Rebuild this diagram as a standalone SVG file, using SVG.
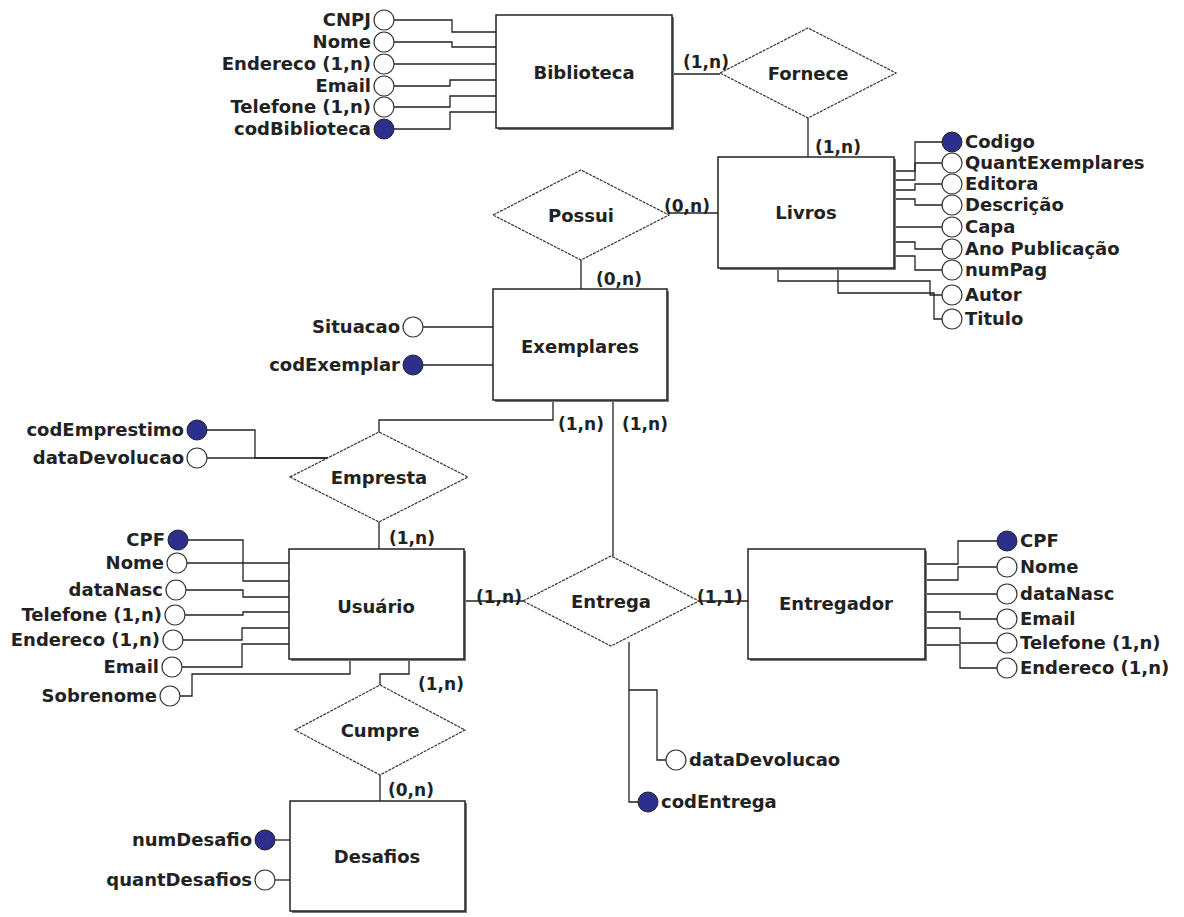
<svg xmlns="http://www.w3.org/2000/svg" width="1184" height="917" viewBox="0 0 1184 917">
<style>
text{font-family:"DejaVu Sans","Liberation Sans",sans-serif;font-weight:bold;font-size:18px;fill:#222}
.card{font-size:17px}
.c{text-anchor:middle}
.e{text-anchor:end}
.ent{fill:#fff;stroke:#222;stroke-width:1.5}
.sh{fill:#777}
.rel{fill:#fff;stroke:#333;stroke-width:1.2;stroke-dasharray:3 1}
.att{fill:#fff;stroke:#333;stroke-width:1.2}
.key{fill:#2c2f8c;stroke:#222;stroke-width:1}
.ln{fill:none;stroke:#222;stroke-width:1.3}
</style>
<rect width="1184" height="917" fill="#fff"/>

<g id="connectors">
<path class="ln" d="M672,74 H720"/>
<path class="ln" d="M808,118 V157"/>
<path class="ln" d="M669,213 H718"/>
<path class="ln" d="M581,260 V289"/>
<path class="ln" d="M553,400 V420 H379 V432"/>
<path class="ln" d="M613,400 V556"/>
<path class="ln" d="M379,522 V549"/>
<path class="ln" d="M464,601 H523"/>
<path class="ln" d="M699,601 H748"/>
<path class="ln" d="M409,660 V674 H380 V685"/>
<path class="ln" d="M380,775 V801"/>
<!-- Biblioteca attributes -->
<path class="ln" d="M394,20 H452 V32 H496"/>
<path class="ln" d="M394,42 H452 V47 H496"/>
<path class="ln" d="M394,64 H496"/>
<path class="ln" d="M394,86 H450 V80 H496"/>
<path class="ln" d="M394,107 H450 V96 H496"/>
<path class="ln" d="M394,129 H450 V112 H496"/>
<!-- Livros attributes -->
<path class="ln" d="M894,171 H915 V142 H942"/>
<path class="ln" d="M894,180 H915 V163 H942"/>
<path class="ln" d="M894,190 H915 V184 H942"/>
<path class="ln" d="M894,199 H915 V205 H942"/>
<path class="ln" d="M894,227 H942"/>
<path class="ln" d="M894,242 H915 V249 H942"/>
<path class="ln" d="M894,256 H915 V270 H942"/>
<path class="ln" d="M778,268 V281 H930 V295 H942"/>
<path class="ln" d="M838,268 V293 H934 V319 H942"/>
<!-- Exemplares attributes -->
<path class="ln" d="M423,327 H493"/>
<path class="ln" d="M423,365 H493"/>
<!-- Empresta attributes -->
<path class="ln" d="M207,430 H255 V458 H328"/>
<path class="ln" d="M207,458 H328"/>
<!-- Usuario attributes -->
<path class="ln" d="M188,540 H243 V581 H289"/>
<path class="ln" d="M187,563 H289"/>
<path class="ln" d="M186,590 H243 V597 H289"/>
<path class="ln" d="M185,615 H243 V612 H289"/>
<path class="ln" d="M183,640 H242 V628 H289"/>
<path class="ln" d="M182,667 H242 V644 H289"/>
<path class="ln" d="M350,660 V674 H192 V696 H180"/>
<!-- Entregador attributes -->
<path class="ln" d="M925,564 H958 V541 H997"/>
<path class="ln" d="M925,580 H958 V567 H997"/>
<path class="ln" d="M925,594 H997"/>
<path class="ln" d="M925,612 H960 V619 H997"/>
<path class="ln" d="M925,628 H960 V643 H997"/>
<path class="ln" d="M925,645 H960 V668 H997"/>
<!-- Entrega attributes -->
<path class="ln" d="M629,642 V802 H638"/>
<path class="ln" d="M629,690 H657 V760 H666"/>
<!-- Desafios attributes -->
<path class="ln" d="M275,840 H290"/>
<path class="ln" d="M275,880 H290"/>
</g>

<g id="cardinalities">
<text class="card" x="683" y="68">(1,n)</text>
<text class="card" x="815" y="153">(1,n)</text>
<text class="card" x="664" y="212">(0,n)</text>
<text class="card" x="596" y="285">(0,n)</text>
<text class="card" x="558" y="430">(1,n)</text>
<text class="card" x="622" y="430">(1,n)</text>
<text class="card" x="389" y="544">(1,n)</text>
<text class="card" x="476" y="603">(1,n)</text>
<text class="card" x="697" y="603">(1,1)</text>
<text class="card" x="418" y="690">(1,n)</text>
<text class="card" x="388" y="796">(0,n)</text>
</g>

<g id="biblioteca">
<rect class="sh" x="498" y="17" width="176" height="113"/>
<rect class="ent" x="496" y="15" width="176" height="113"/>
<text class="c" x="584" y="79">Biblioteca</text>
<circle class="att" cx="384" cy="20" r="10"/><text class="e" x="371" y="26">CNPJ</text>
<circle class="att" cx="384" cy="42" r="10"/><text class="e" x="371" y="48">Nome</text>
<circle class="att" cx="384" cy="64" r="10"/><text class="e" x="371" y="70">Endereco (1,n)</text>
<circle class="att" cx="384" cy="86" r="10"/><text class="e" x="371" y="92">Email</text>
<circle class="att" cx="384" cy="107" r="10"/><text class="e" x="371" y="113">Telefone (1,n)</text>
<circle class="key" cx="384" cy="129" r="10"/><text class="e" x="371" y="135">codBiblioteca</text>
</g>

<g id="fornece">
<polygon class="rel" points="720,73 808,28 896,73 808,118"/>
<text class="c" x="808" y="80">Fornece</text>
</g>

<g id="livros">
<rect class="sh" x="720" y="159" width="176" height="111"/>
<rect class="ent" x="718" y="157" width="176" height="111"/>
<text class="c" x="806" y="219">Livros</text>
<circle class="key" cx="952" cy="142" r="10"/><text x="965" y="148">Codigo</text>
<circle class="att" cx="952" cy="163" r="10"/><text x="965" y="169">QuantExemplares</text>
<circle class="att" cx="952" cy="184" r="10"/><text x="965" y="190">Editora</text>
<circle class="att" cx="952" cy="205" r="10"/><text x="965" y="211">Descrição</text>
<circle class="att" cx="952" cy="227" r="10"/><text x="965" y="233">Capa</text>
<circle class="att" cx="952" cy="249" r="10"/><text x="965" y="255">Ano Publicação</text>
<circle class="att" cx="952" cy="270" r="10"/><text x="965" y="276">numPag</text>
<circle class="att" cx="952" cy="295" r="10"/><text x="965" y="301">Autor</text>
<circle class="att" cx="952" cy="319" r="10"/><text x="965" y="325">Titulo</text>
</g>

<g id="possui">
<polygon class="rel" points="493,215 581,170 669,215 581,260"/>
<text class="c" x="581" y="222">Possui</text>
</g>

<g id="exemplares">
<rect class="sh" x="495" y="291" width="174" height="111"/>
<rect class="ent" x="493" y="289" width="174" height="111"/>
<text class="c" x="580" y="353">Exemplares</text>
<circle class="att" cx="413" cy="327" r="10"/><text class="e" x="400" y="333">Situacao</text>
<circle class="key" cx="413" cy="365" r="10"/><text class="e" x="400" y="371">codExemplar</text>
</g>

<g id="empresta">
<polygon class="rel" points="290,477 379,432 468,477 379,522"/>
<text class="c" x="379" y="484">Empresta</text>
<circle class="key" cx="197" cy="430" r="10"/><text class="e" x="184" y="436">codEmprestimo</text>
<circle class="att" cx="197" cy="458" r="10"/><text class="e" x="184" y="464">dataDevolucao</text>
</g>

<g id="usuario">
<rect class="sh" x="291" y="551" width="175" height="110"/>
<rect class="ent" x="289" y="549" width="175" height="110"/>
<text class="c" x="376" y="613">Usuário</text>
<circle class="key" cx="178" cy="540" r="10"/><text class="e" x="165" y="546">CPF</text>
<circle class="att" cx="177" cy="563" r="10"/><text class="e" x="164" y="569">Nome</text>
<circle class="att" cx="176" cy="590" r="10"/><text class="e" x="163" y="596">dataNasc</text>
<circle class="att" cx="175" cy="615" r="10"/><text class="e" x="162" y="621">Telefone (1,n)</text>
<circle class="att" cx="173" cy="640" r="10"/><text class="e" x="160" y="646">Endereco (1,n)</text>
<circle class="att" cx="172" cy="667" r="10"/><text class="e" x="159" y="673">Email</text>
<circle class="att" cx="170" cy="696" r="10"/><text class="e" x="157" y="702">Sobrenome</text>
</g>

<g id="entrega">
<polygon class="rel" points="523,601 611,556 699,601 611,646"/>
<text class="c" x="611" y="608">Entrega</text>
<circle class="att" cx="676" cy="760" r="10"/><text x="689" y="766">dataDevolucao</text>
<circle class="key" cx="648" cy="802" r="10"/><text x="661" y="808">codEntrega</text>
</g>

<g id="entregador">
<rect class="sh" x="750" y="551" width="177" height="110"/>
<rect class="ent" x="748" y="549" width="177" height="110"/>
<text class="c" x="836" y="610">Entregador</text>
<circle class="key" cx="1007" cy="541" r="10"/><text x="1020" y="547">CPF</text>
<circle class="att" cx="1007" cy="567" r="10"/><text x="1020" y="573">Nome</text>
<circle class="att" cx="1007" cy="594" r="10"/><text x="1020" y="600">dataNasc</text>
<circle class="att" cx="1007" cy="619" r="10"/><text x="1020" y="625">Email</text>
<circle class="att" cx="1007" cy="643" r="10"/><text x="1020" y="649">Telefone (1,n)</text>
<circle class="att" cx="1007" cy="668" r="10"/><text x="1020" y="674">Endereco (1,n)</text>
</g>

<g id="cumpre">
<polygon class="rel" points="295,730 380,685 465,730 380,775"/>
<text class="c" x="380" y="737">Cumpre</text>
</g>

<g id="desafios">
<rect class="sh" x="292" y="803" width="175" height="110"/>
<rect class="ent" x="290" y="801" width="175" height="110"/>
<text class="c" x="377" y="863">Desafios</text>
<circle class="key" cx="265" cy="840" r="10"/><text class="e" x="252" y="846">numDesafio</text>
<circle class="att" cx="265" cy="880" r="10"/><text class="e" x="252" y="886">quantDesafios</text>
</g>
</svg>
